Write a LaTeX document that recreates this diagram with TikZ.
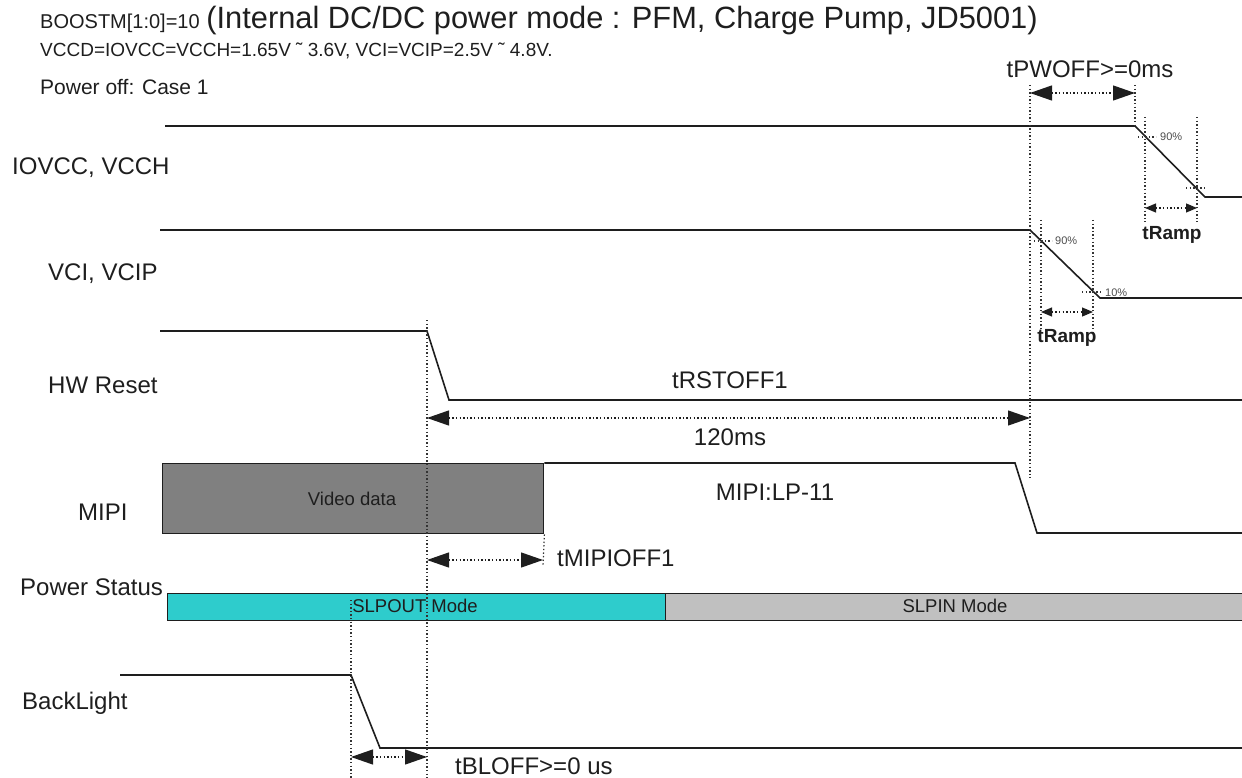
\documentclass[tikz,border=0pt]{standalone}
\usepackage{fontspec}
\setmainfont{Liberation Sans}
\usetikzlibrary{arrows.meta}

\definecolor{slpout}{RGB}{46,204,204}
\definecolor{slpin}{RGB}{192,192,192}
\definecolor{video}{RGB}{128,128,128}
\definecolor{ink}{RGB}{30,30,30}

\tikzset{
	lbl/.style={font=\fontsize{24}{28}\selectfont, anchor=west, text=ink},
	wave/.style={line width=1.6pt, draw=ink},
	guide/.style={line width=1.2pt, dash pattern=on 1.4pt off 2.2pt, draw=black!80},
	dim/.style={line width=1.2pt, dash pattern=on 1.4pt off 2.2pt, draw=ink,
		{Triangle[length=22pt,width=15pt]}-{Triangle[length=22pt,width=15pt]}},
	rampdim/.style={line width=1.2pt, dash pattern=on 1.4pt off 2.2pt, draw=ink,
		{Triangle[length=11pt,width=9pt]}-{Triangle[length=11pt,width=9pt]}},
	pct/.style={font=\fontsize{11}{13}\selectfont, anchor=west, text=black!70},
	ramp/.style={font=\fontsize{19}{22}\selectfont\bfseries, text=ink}
}

\begin{document}
\begin{tikzpicture}[x=1pt,y=-1pt,every node/.style={inner sep=0pt}]
	\useasboundingbox (0,0) rectangle (1242,778);

	% heading
	\node[lbl, anchor=base west] (head) at (40,29) {{\fontsize{20}{24}\selectfont BOOSTM[1:0]=10} {\fontsize{30.8}{34}\selectfont (Internal DC/DC power mode : PFM, Charge Pump, JD5001)}};
	\node[lbl, anchor=base west, font=\fontsize{19}{22}\selectfont] (supply) at (40,57) {VCCD=IOVCC=VCCH=1.65V ˜ 3.6V, VCI=VCIP=2.5V ˜ 4.8V.};
	\node[lbl, anchor=base west, font=\fontsize{21}{25}\selectfont] (case) at (40,95) {Power off: Case 1};

	% signal names
	\node[lbl] (iovcc) at (12,168) {IOVCC, VCCH};
	\node[lbl] (vci) at (48,274) {VCI, VCIP};
	\node[lbl] (rst) at (48,385) {HW Reset};
	\node[lbl] (mipi) at (78,512) {MIPI};
	\node[lbl] (pwr) at (20,587) {Power Status};
	\node[lbl] (bl) at (22,703) {BackLight};

	% waveforms
	\coordinate (ioA) at (165,126);
	\coordinate (ioB) at (1135,126);
	\coordinate (ioC) at (1205,197);
	\coordinate (ioD) at (1242,197);
	\draw[wave] (ioA) -- (ioB) -- (ioC) -- (ioD);

	\coordinate (vciA) at (160,230);
	\coordinate (vciB) at (1030,230);
	\coordinate (vciC) at (1100,298);
	\coordinate (vciD) at (1242,298);
	\draw[wave] (vciA) -- (vciB) -- (vciC) -- (vciD);

	\coordinate (rstA) at (160,331);
	\coordinate (rstB) at (427,331);
	\coordinate (rstC) at (449,400);
	\coordinate (rstD) at (1242,400);
	\draw[wave] (rstA) -- (rstB) -- (rstC) -- (rstD);

	\node[draw=ink, line width=1.4pt, fill=video, minimum width=381, minimum height=70, anchor=north west] (video) at (162,463) {};
	\node[font=\fontsize{18.5}{22}\selectfont, text=ink] (videotxt) at (352,499) {Video data};
	\coordinate (mipiB) at (1015,463);
	\coordinate (mipiC) at (1037,533);
	\coordinate (mipiD) at (1242,533);
	\draw[wave] (video.north east) -- (mipiB) -- (mipiC) -- (mipiD);
	\node[lbl, anchor=center] (lp) at (775,492) {MIPI:LP-11};

	\node[draw=ink, line width=1.4pt, fill=slpout, minimum width=498, minimum height=27, anchor=north west] (slpout) at (167,593) {};
	\node[draw=ink, line width=1.4pt, fill=slpin, minimum width=590, minimum height=27, anchor=north west] (slpin) at (665,593) {};
	\node[font=\fontsize{18.5}{22}\selectfont, text=ink] (slpouttxt) at (415,606) {SLPOUT Mode};
	\node[font=\fontsize{18.5}{22}\selectfont, text=ink] (slpintxt) at (955,606) {SLPIN Mode};

	\coordinate (blA) at (120,675);
	\coordinate (blB) at (351,675);
	\coordinate (blC) at (380,748);
	\coordinate (blD) at (1242,748);
	\draw[wave] (blA) -- (blB) -- (blC) -- (blD);

	% guide lines
	\draw[guide] (1030,85) -- (1030,478);
	\draw[guide] (1135,85) -- (ioB);
	\draw[guide] (1145,117) -- (1145,222);
	\draw[guide] (1197,117) -- (1197,222);
	\draw[guide] (1041,220) -- (1041,335);
	\draw[guide] (1093,220) -- (1093,335);
	\draw[guide] (427,320) -- (427,778);
	\draw[guide] (351,600) -- (351,778);
	\draw[guide] (video.south east) -- (543,566);

	% 90% / 10% marks
	\draw[guide] (1138,137) -- (1156,137);
	\node[pct] (io90) at (1160,137) {90\%};
	\draw[guide] (1186,188) -- (1206,188);
	\draw[guide] (1034,241) -- (1052,241);
	\node[pct] (vci90) at (1055,241) {90\%};
	\draw[guide] (1082,292) -- (1102,292);
	\node[pct] (vci10) at (1105,293) {10\%};

	% timing
	\coordinate (pwoffA) at (1030,93);
	\coordinate (pwoffB) at (1135,93);
	\draw[dim] (pwoffA) -- (pwoffB);
	\node[lbl, anchor=center] (pwoff) at (1090,69) {tPWOFF>=0ms};

	\coordinate (ioRA) at (1145,208);
	\coordinate (ioRB) at (1197,208);
	\draw[rampdim] (ioRA) -- (ioRB);
	\node[ramp] (ioramp) at (1172,235) {tRamp};

	\coordinate (vciRA) at (1041,312);
	\coordinate (vciRB) at (1093,312);
	\draw[rampdim] (vciRA) -- (vciRB);
	\node[ramp] (vciramp) at (1067,338) {tRamp};

	\coordinate (rstoffA) at (427,418);
	\coordinate (rstoffB) at (1030,418);
	\draw[dim] (rstoffA) -- (rstoffB);
	\node[lbl, anchor=center] (rstoff) at (730,380) {tRSTOFF1};
	\node[lbl, anchor=center] (rstms) at (730,437) {120ms};

	\coordinate (mipioffA) at (427,560);
	\coordinate (mipioffB) at (543,560);
	\draw[dim] (mipioffA) -- (mipioffB);
	\node[lbl] (mipioff) at (557,558) {tMIPIOFF1};

	\coordinate (bloffA) at (351,757);
	\coordinate (bloffB) at (427,757);
	\draw[dim] (bloffA) -- (bloffB);
	\node[lbl] (bloff) at (455,766) {tBLOFF>=0 us};
\end{tikzpicture}
\end{document}
